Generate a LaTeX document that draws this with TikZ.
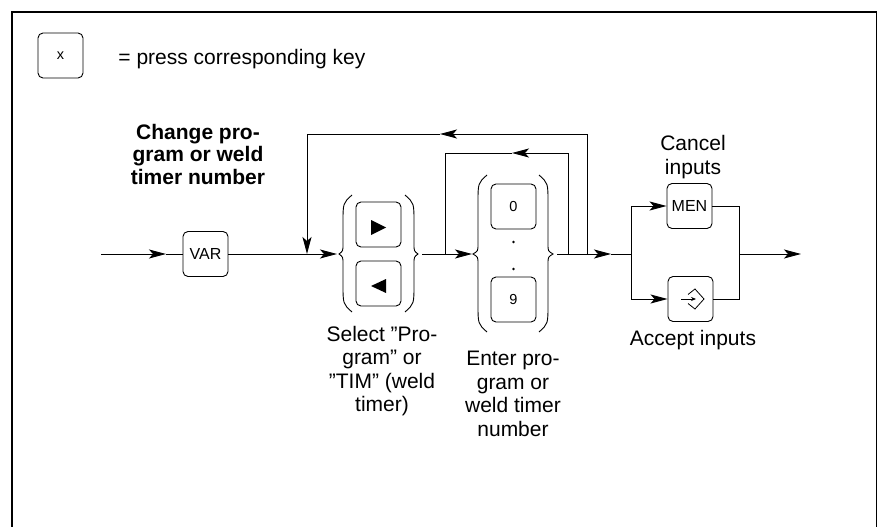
\documentclass[tikz,border=0pt]{standalone}
\usepackage{fontspec}
\setmainfont{Liberation Sans}
\usetikzlibrary{arrows.meta}
\newcommand{\bracepath}[6]{%
  \draw[bracestyle] (#1,#4) .. controls (#2,{#4+8}) .. (#2,{#4+28}) -- (#2,{#5-10})
    .. controls (#2,{#5-3}) .. (#3,#5) .. controls (#2,{#5+3}) .. (#2,{#5+10})
    -- (#2,{#6-28}) .. controls (#2,{#6-8}) .. (#1,#6);}
\begin{document}
\begin{tikzpicture}[x=1pt,y=-1pt,
  line width=0.9pt,
  every node/.style={inner sep=0pt},
  keybox/.style={draw, line width=0.9pt, rounded corners=5pt, minimum width=45pt, minimum height=45pt, font=\fontsize{16}{18}\selectfont},
  digitkey/.style={keybox, font=\fontsize{14.5}{16}\selectfont},
  bracestyle/.style={line width=0.9pt},
  arr/.style={-{Stealth[length=17pt,width=9pt,inset=4pt]}},
  lbl/.style={align=center, font=\fontsize{21}{23.5}\selectfont},
  title/.style={align=center, font=\fontsize{21}{22.5}\selectfont\bfseries}
]
\useasboundingbox (0,0) rectangle (879,527);
% frame
\draw[line width=1.2pt] (12,527) -- (12,12) -- (876.5,12) -- (876.5,527);

% legend
\node[digitkey] (legkey) at (60.5,55.5) {x};
\node[lbl, anchor=base west] (legtxt) at (118,65) {= press corresponding key};

% title
\node[title] (ttl) at (198,154) {Change pro-\\gram or weld\\timer number};

% keys
\node[keybox] (var) at (205.5,254) {VAR};
\node[keybox] (right) at (378.5,224.5) {};
\node[keybox] (left) at (378.5,283.5) {};
\fill (371,220) -- (386,227.5) -- (371,235) -- cycle;
\fill (386,279) -- (371,286) -- (386,293) -- cycle;
\node[digitkey] (k0) at (513.5,206.5) {0};
\node[digitkey] (k9) at (513.5,299.5) {9};
\fill (513.5,242) circle (1.3pt);
\fill (513.5,269) circle (1.3pt);
\node[keybox] (men) at (689.5,206) {MEN};
\node[keybox] (acc) at (690.5,299) {};
% enter symbol
\draw[line width=0.8pt] (688,294.5) -- (695,289) -- (704,299) -- (695,309) -- (688,303.5);
\draw[line width=0.8pt, -{Stealth[length=5pt,width=4pt]}] (681,299) -- (696,299);

% braces
\bracepath{352}{343}{339}{195}{254}{312}
\bracepath{405}{414}{418}{195}{254}{312}
\bracepath{487}{478}{473}{175}{254}{332}
\bracepath{539}{548}{553}{175}{254}{332}

% coordinates
\coordinate (in) at (101,254);
\coordinate (a1) at (166,254);
\coordinate (j1) at (307,254);
\coordinate (b1l) at (337,254);
\coordinate (b1r) at (422,254);
\coordinate (b2l) at (472,254);
\coordinate (b2r) at (557,254);
\coordinate (j2) at (568,254);
\coordinate (j3) at (587,254);
\coordinate (a3) at (611,254);
\coordinate (br) at (631,254);
\coordinate (bt) at (631,206);
\coordinate (bb) at (631,299);
\coordinate (ot) at (739,206);
\coordinate (ob) at (739,299);
\coordinate (om) at (739,254);
\coordinate (out) at (801,254);
\coordinate (fo) at (440,134);
\coordinate (fi) at (512,153);
\coordinate (fil) at (445,254);

% connectors
\draw[arr] (in) -- (a1);
\draw (a1) -- (var.west);
\draw (var.east) -- (j1);
\draw[arr] (j1) -- (b1l);
\draw[arr] (b1r) -- (b2l);
\draw (b2r) -- (j3);
\draw[arr] (j3) -- (a3);
\draw (a3) -- (br);
\draw (bt) -- (bb);
\draw[arr] (bt) -- (men.west);
\draw[arr] (bb) -- (acc.west);
\draw (men.east) -- (ot) -- (ob) -- (acc.east);
\draw[arr] (om) -- (out);
% feedback loops
\draw[arr] (j3) |- (fo);
\draw[arr] (fo) -| (j1);
\draw[arr] (j2) |- (fi);
\draw (fi) -| (fil);

% labels
\node[lbl] (cancel) at (693,157) {Cancel\\inputs};
\node[lbl] (accept) at (693,340) {Accept inputs};
\node[lbl] (select) at (382,371) {Select ”Pro-\\gram” or\\”TIM” (weld\\timer)};
\node[lbl] (enter) at (513,394) {Enter pro-\\gram or\\weld timer\\number};
\end{tikzpicture}
\end{document}
